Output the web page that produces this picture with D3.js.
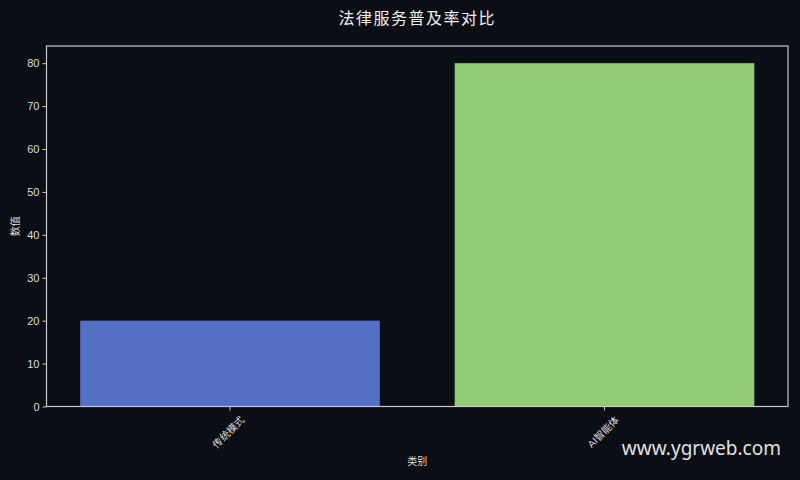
<!DOCTYPE html>
<html>
<head>
<meta charset="utf-8">
<script src="https://cdn.jsdelivr.net/npm/d3@7"></script>
<style>
  html, body { margin: 0; padding: 0; background: #0b0e14; }
  text { font-family: "Liberation Sans", "Noto Sans CJK SC", sans-serif; }
</style>
</head>
<body>
<div id="chart"></div>
<script>
// Chart data
const categories = ['传统模式', 'AI智能体'];
const values = [20, 80];
const barColors = ['#5470c6', '#91cc75'];
const yTicks = [0, 10, 20, 30, 40, 50, 60, 70, 80];

const W = 800, H = 480;
const margin = {top: 46, right: 12, bottom: 73.5, left: 46.5};
const width = W - margin.left - margin.right;
const height = H - margin.top - margin.bottom;
const axisColor = '#c8c8c8';
const textColor = '#dddddd';

const svg = d3.select('#chart').append('svg')
    .attr('width', W)
    .attr('height', H)
    .style('display', 'block')
    .style('background', '#0b0e14');

const g = svg.append('g')
    .attr('transform', `translate(${margin.left},${margin.top})`);

// Scales
const xScale = d3.scaleBand()
    .domain(categories)
    .range([0, width])
    .paddingInner(0.2)
    .paddingOuter(0.09);

const yScale = d3.scaleLinear()
    .domain([0, 84])
    .range([height, 0]);

// Bars
g.selectAll('.bar')
    .data(categories)
    .enter()
    .append('rect')
    .attr('class', 'bar')
    .attr('x', d => xScale(d))
    .attr('width', xScale.bandwidth())
    .attr('y', (d, i) => yScale(values[i]))
    .attr('height', (d, i) => height - yScale(values[i]))
    .attr('fill', (d, i) => barColors[i]);

// Y axis
const yAxis = g.append('g')
    .call(d3.axisLeft(yScale).tickValues(yTicks).tickSize(4).tickPadding(3));
yAxis.select('.domain').remove();
yAxis.selectAll('line').attr('stroke', axisColor);
yAxis.selectAll('text')
    .attr('fill', textColor)
    .style('font-size', '11px');

// X axis
const xAxis = g.append('g')
    .attr('transform', `translate(0,${height})`)
    .call(d3.axisBottom(xScale).tickSize(4).tickPadding(4));
xAxis.select('.domain').remove();
xAxis.selectAll('line').attr('stroke', axisColor);
xAxis.selectAll('text')
    .attr('fill', textColor)
    .style('font-size', '10px')
    .attr('text-anchor', 'end')
    .attr('dy', '0.35em')
    .attr('transform', 'translate(7,6) rotate(-45)');

// Frame around the plot area
g.append('rect')
    .attr('width', width)
    .attr('height', height)
    .attr('fill', 'none')
    .attr('stroke', axisColor)
    .attr('stroke-width', 1.2);

// Title
svg.append('text')
    .attr('x', margin.left + width / 2)
    .attr('y', 24)
    .attr('text-anchor', 'middle')
    .attr('fill', '#f0f0f0')
    .style('font-size', '16px')
    .style('letter-spacing', '1.5px')
    .text('法律服务普及率对比');

// Axis labels
svg.append('text')
    .attr('x', margin.left + width / 2)
    .attr('y', 465)
    .attr('text-anchor', 'middle')
    .attr('fill', textColor)
    .style('font-size', '10px')
    .text('类别');

svg.append('text')
    .attr('transform', `translate(19,${margin.top + height / 2}) rotate(-90)`)
    .attr('text-anchor', 'middle')
    .attr('fill', textColor)
    .style('font-size', '10px')
    .text('数值');

// Watermark
svg.append('text')
    .attr('x', 781)
    .attr('y', 455)
    .attr('text-anchor', 'end')
    .attr('fill', '#e0e0e0')
    .style('font-family', '"Noto Sans", sans-serif')
    .style('font-size', '19px')
    .text('www.ygrweb.com');
</script>
</body>
</html>
